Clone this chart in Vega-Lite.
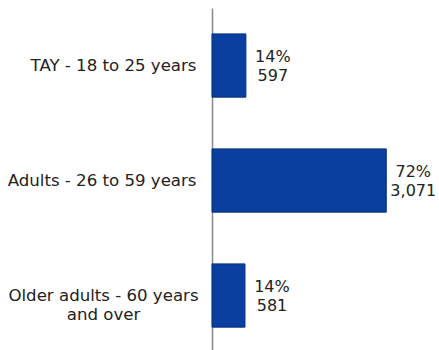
{
  "$schema": "https://vega.github.io/schema/vega-lite/v6.json",
  "width": 227,
  "height": 345,
  "autosize": {"type": "none"},
  "padding": {"left": 212, "top": 8, "right": 0, "bottom": 0},
  "background": "white",
  "config": {"view": {"stroke": null}, "font": "DejaVu Sans"},
  "data": {
    "values": [
      {"group": "TAY - 18 to 25 years", "n": 597, "pct": "14%", "count": "597"},
      {"group": "Adults - 26 to 59 years", "n": 3071, "pct": "72%", "count": "3,071"},
      {"group": "Older adults - 60 years and over", "n": 581, "pct": "14%", "count": "581"}
    ]
  },
  "encoding": {
    "y": {
      "field": "group",
      "type": "nominal",
      "sort": null,
      "scale": {"paddingInner": 0.45, "paddingOuter": 0.225},
      "axis": {
        "title": null,
        "ticks": false,
        "labelAlign": {"condition": {"test": "datum.value == 'Older adults - 60 years and over'", "value": "center"}, "value": "right"},
        "labelPadding": {"condition": {"test": "datum.value == 'Older adults - 60 years and over'", "value": 109}, "value": 16},
        "labelFontSize": 16.6,
        "labelColor": "#222222",
        "labelFont": "DejaVu Sans",
        "labelLineHeight": 19,
        "labelLimit": 220,
        "labelExpr": "datum.value == 'Older adults - 60 years and over' ? ['Older adults - 60 years', 'and over'] : datum.value",
        "domainColor": "#8a8a8a",
        "domainWidth": 1.5,
        "grid": false
      }
    },
    "x": {
      "field": "n",
      "type": "quantitative",
      "scale": {"domain": [0, 4000], "nice": false},
      "axis": null
    }
  },
  "layer": [
    {"mark": {"type": "bar", "color": "#0b3f9f", "stroke": "#06307f", "strokeWidth": 1}},
    {
      "mark": {"type": "text", "align": "center", "baseline": "middle", "dx": 27, "dy": -9, "fontSize": 16, "color": "#222222"},
      "encoding": {"text": {"field": "pct"}}
    },
    {
      "mark": {"type": "text", "align": "center", "baseline": "middle", "dx": 27, "dy": 10, "fontSize": 16, "color": "#222222"},
      "encoding": {"text": {"field": "count"}}
    }
  ]
}
